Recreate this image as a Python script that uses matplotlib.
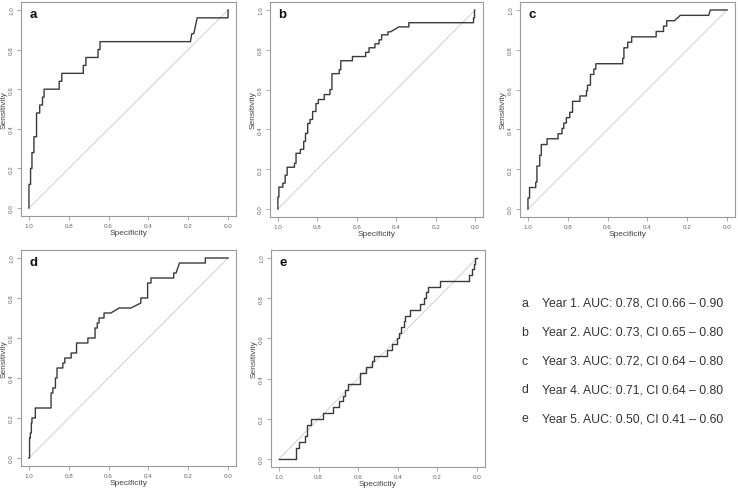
import matplotlib
matplotlib.use("Agg")
import matplotlib.pyplot as plt

plt.rcParams["font.family"] = ["Liberation Sans", "DejaVu Sans"]

# ROC curve vertices (specificity, sensitivity)
spec_a = [1.0, 1.0, 0.992, 0.992, 0.985, 0.985, 0.975, 0.975, 0.962, 0.962, 0.946, 0.946,
          0.932, 0.932, 0.924, 0.924, 0.848, 0.848, 0.835, 0.835, 0.727, 0.727, 0.714, 0.714,
          0.653, 0.653, 0.643, 0.643, 0.189, 0.182, 0.172, 0.155, 0.0, 0.0]
sens_a = [0.0, 0.12, 0.12, 0.20, 0.20, 0.28, 0.28, 0.36, 0.36, 0.48, 0.48, 0.52,
          0.52, 0.56, 0.56, 0.60, 0.60, 0.64, 0.64, 0.68, 0.68, 0.72, 0.72, 0.76,
          0.76, 0.80, 0.80, 0.84, 0.84, 0.88, 0.88, 0.96, 0.96, 1.0]

spec_b = [1.0, 1.0, 0.995, 0.995, 0.975, 0.975, 0.963, 0.963, 0.953, 0.953, 0.916, 0.916,
          0.908, 0.908, 0.886, 0.886, 0.869, 0.869, 0.860, 0.860, 0.849, 0.849, 0.837, 0.837,
          0.824, 0.824, 0.807, 0.807, 0.795, 0.795, 0.765, 0.765, 0.736, 0.736, 0.726, 0.726,
          0.689, 0.689, 0.681, 0.681, 0.622, 0.622, 0.555, 0.555, 0.538, 0.538, 0.508, 0.508,
          0.487, 0.487, 0.474, 0.474, 0.442, 0.442, 0.429, 0.387, 0.336, 0.336, 0.008, 0.008,
          0.003, 0.003]
sens_b = [0.0, 0.06, 0.06, 0.11, 0.11, 0.13, 0.13, 0.17, 0.17, 0.21, 0.21, 0.23,
          0.23, 0.28, 0.28, 0.30, 0.30, 0.34, 0.34, 0.38, 0.38, 0.43, 0.43, 0.45,
          0.45, 0.49, 0.49, 0.53, 0.53, 0.55, 0.55, 0.575, 0.575, 0.60, 0.60, 0.68,
          0.68, 0.70, 0.70, 0.745, 0.745, 0.766, 0.766, 0.787, 0.787, 0.81, 0.81, 0.83,
          0.83, 0.85, 0.85, 0.875, 0.875, 0.89, 0.89, 0.915, 0.915, 0.936, 0.936, 0.96,
          0.96, 1.0]

spec_c = [1.0, 1.0, 0.992, 0.992, 0.961, 0.961, 0.955, 0.955, 0.941, 0.941, 0.933, 0.933,
          0.904, 0.904, 0.849, 0.849, 0.829, 0.829, 0.820, 0.820, 0.807, 0.807, 0.790, 0.790,
          0.776, 0.776, 0.739, 0.739, 0.706, 0.706, 0.701, 0.701, 0.686, 0.686, 0.669, 0.669,
          0.659, 0.659, 0.524, 0.524, 0.518, 0.518, 0.499, 0.499, 0.479, 0.479, 0.356, 0.356,
          0.319, 0.319, 0.303, 0.303, 0.264, 0.235, 0.092, 0.084, 0.0]
sens_c = [0.0, 0.055, 0.055, 0.108, 0.108, 0.135, 0.135, 0.216, 0.216, 0.27, 0.27, 0.324,
          0.324, 0.353, 0.353, 0.378, 0.378, 0.405, 0.405, 0.432, 0.432, 0.459, 0.459, 0.486,
          0.486, 0.541, 0.541, 0.568, 0.568, 0.595, 0.595, 0.622, 0.622, 0.676, 0.676, 0.703,
          0.703, 0.73, 0.73, 0.757, 0.757, 0.81, 0.81, 0.838, 0.838, 0.865, 0.865, 0.892,
          0.892, 0.919, 0.919, 0.946, 0.946, 0.973, 0.973, 1.0, 1.0]

spec_d = [1.0, 0.997, 0.997, 0.993, 0.993, 0.988, 0.988, 0.985, 0.985, 0.968, 0.968, 0.889,
          0.889, 0.880, 0.880, 0.867, 0.867, 0.859, 0.859, 0.830, 0.830, 0.820, 0.820, 0.788,
          0.788, 0.761, 0.761, 0.704, 0.704, 0.668, 0.668, 0.657, 0.657, 0.648, 0.648, 0.623,
          0.623, 0.589, 0.547, 0.488, 0.438, 0.438, 0.404, 0.404, 0.387, 0.387, 0.273, 0.273,
          0.261, 0.244, 0.114, 0.114, 0.0]
sens_d = [0.0, 0.0, 0.10, 0.10, 0.125, 0.125, 0.175, 0.175, 0.20, 0.20, 0.25, 0.25,
          0.325, 0.325, 0.35, 0.35, 0.40, 0.40, 0.45, 0.45, 0.475, 0.475, 0.50, 0.50,
          0.525, 0.525, 0.575, 0.575, 0.60, 0.60, 0.65, 0.65, 0.675, 0.675, 0.70, 0.70,
          0.725, 0.725, 0.75, 0.75, 0.775, 0.80, 0.80, 0.875, 0.875, 0.90, 0.90, 0.925,
          0.925, 0.975, 0.975, 1.0, 1.0]

spec_e = [1.0, 0.916, 0.916, 0.913, 0.913, 0.90, 0.90, 0.868, 0.868, 0.858, 0.858, 0.838,
          0.838, 0.776, 0.776, 0.725, 0.725, 0.695, 0.695, 0.678, 0.678, 0.665, 0.665, 0.653,
          0.653, 0.591, 0.591, 0.561, 0.561, 0.531, 0.531, 0.519, 0.519, 0.457, 0.457, 0.43,
          0.43, 0.402, 0.402, 0.394, 0.394, 0.385, 0.385, 0.369, 0.369, 0.364, 0.364, 0.34,
          0.34, 0.29, 0.29, 0.268, 0.268, 0.26, 0.26, 0.246, 0.246, 0.189, 0.189, 0.039,
          0.039, 0.025, 0.025, 0.017, 0.017, 0.008, 0.008, 0.0]
sens_e = [0.0, 0.0, 0.029, 0.029, 0.057, 0.057, 0.086, 0.086, 0.114, 0.114, 0.171, 0.171,
          0.20, 0.20, 0.229, 0.229, 0.257, 0.257, 0.286, 0.286, 0.314, 0.314, 0.343, 0.343,
          0.371, 0.371, 0.429, 0.429, 0.457, 0.457, 0.486, 0.486, 0.514, 0.514, 0.543, 0.543,
          0.571, 0.571, 0.60, 0.60, 0.629, 0.629, 0.657, 0.657, 0.686, 0.686, 0.714, 0.714,
          0.743, 0.743, 0.771, 0.771, 0.80, 0.80, 0.829, 0.829, 0.857, 0.857, 0.886, 0.886,
          0.914, 0.914, 0.943, 0.943, 0.971, 0.971, 1.0, 1.0]

panel_labels = ["a", "b", "c", "d", "e"]
legend_texts = [
    "Year 1. AUC: 0.78, CI 0.66 \u2013 0.90",
    "Year 2. AUC: 0.73, CI 0.65 \u2013 0.80",
    "Year 3. AUC: 0.72, CI 0.64 \u2013 0.80",
    "Year 4. AUC: 0.71, CI 0.64 \u2013 0.80",
    "Year 5. AUC: 0.50, CI 0.41 \u2013 0.60",
]
ticks = [1.0, 0.8, 0.6, 0.4, 0.2, 0.0]

W, H = 738, 489
fig = plt.figure(figsize=(W / 100, H / 100), dpi=100)

# pixel boxes: left, right, top, bottom
boxes = [(21, 236, 3, 217), (270, 483, 3, 218), (520, 735, 3, 218),
         (21, 236, 251, 467), (271, 485, 251, 468)]
curves = [(spec_a, sens_a), (spec_b, sens_b), (spec_c, sens_c),
          (spec_d, sens_d), (spec_e, sens_e)]

frame_col = "#9a9a9a"
for (l, r, t, b), (sx, sy), lab in zip(boxes, curves, panel_labels):
    ax = fig.add_axes([l / W, 1 - b / H, (r - l) / W, (b - t) / H])
    ax.plot([1, 0], [0, 1], color="#d0d0d0", lw=0.7)
    ax.plot(sx, sy, color="#3a3a3a", lw=1.0)
    ax.set_xlim(1.04, -0.04)
    ax.set_ylim(-0.04, 1.04)
    ax.set_xticks(ticks)
    ax.set_yticks(ticks)
    ax.set_xticklabels(["%.1f" % v for v in ticks])
    ax.set_yticklabels(["%.1f" % v for v in ticks], rotation=90, va="center")
    ax.tick_params(length=3, width=0.6, color=frame_col, labelsize=4.5,
                   labelcolor="#666666", pad=2)
    for sp in ax.spines.values():
        sp.set_color(frame_col)
        sp.set_linewidth(0.8)
    ax.set_xlabel("Specificity", fontsize=6, color="#444444", labelpad=1)
    ax.set_ylabel("Sensitivity", fontsize=6, color="#444444", labelpad=1)
    ax.text(0.04, 0.945, lab, transform=ax.transAxes, fontsize=9.5,
            fontweight="bold", va="center", ha="left", color="#111111")

for i, (lab, txt) in enumerate(zip(panel_labels, legend_texts)):
    y = 307 + i * 28.8
    fig.text(521 / W, 1 - y / H, lab, fontsize=8.8, color="#333333", va="baseline")
    fig.text(542 / W, 1 - y / H, txt, fontsize=8.8, color="#333333", va="baseline")

fig.savefig("out.png", dpi=100)
